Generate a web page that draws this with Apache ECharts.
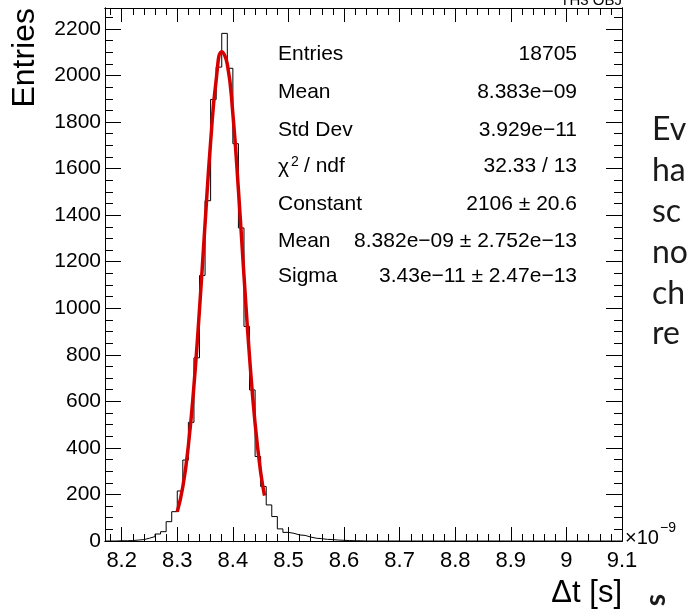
<!DOCTYPE html>
<html><head><meta charset="utf-8">
<script src="https://cdn.jsdelivr.net/npm/echarts@6/dist/echarts.min.js"></script>
<style>html,body{margin:0;padding:0;background:#fff}#c{width:687px;height:613px}</style>
</head><body><div id="c"></div>
<script>
// ---- data ----
const binStart = 8.17;   // first bin low edge (x10^-9 s)
const binWidth = 0.01;
const counts = [
  0, 0, 1, 1, 2, 4, 6, 12, 19, 30,
  40, 83, 126, 215, 348, 510, 787, 1141, 1462, 1897,
  2036, 2181, 2031, 1707, 1345, 922, 649, 363, 234, 155,
  105, 52, 37, 33, 26, 24, 17, 12, 10, 7,
  6, 4, 3, 2, 1, 1, 0, 0, 0, 0,
  0, 0, 0, 0, 0, 0, 0, 0, 0, 0,
  0, 0, 0, 0, 0, 0, 0, 0, 0, 0,
  0, 0, 0, 0, 0, 0, 0, 0, 0, 0,
  0, 0, 0, 0, 0, 0, 0, 0, 0, 0,
  0, 0, 0
];
const fitX = [8.300, 8.31, 8.32, 8.33, 8.34, 8.35, 8.36, 8.37, 8.38, 8.39, 8.40, 8.41, 8.42, 8.43, 8.44, 8.45, 8.457];
const fitY = [126, 233, 411, 668, 995, 1363, 1715, 1981, 2102, 2049, 1835, 1509, 1140, 791, 504, 295, 195];
const xTickValues = [8.2, 8.3, 8.4, 8.5, 8.6, 8.7, 8.8, 8.9, 9.0, 9.1];
const xTickLabels = ['8.2', '8.3', '8.4', '8.5', '8.6', '8.7', '8.8', '8.9', '9', '9.1'];
const yTickValues = [0, 200, 400, 600, 800, 1000, 1200, 1400, 1600, 1800, 2000, 2200];
const yTickLabels = ['0', '200', '400', '600', '800', '1000', '1200', '1400', '1600', '1800', '2000', '2200'];
const statsLabels = ['Entries', 'Mean', 'Std Dev', 'χ2 / ndf', 'Constant', 'Mean', 'Sigma'];
const statsValues = ['18705', '8.383e\u221209', '3.929e\u221211', '32.33 / 13', '2106 \u00b1 20.6', '8.382e\u221209 \u00b1 2.752e\u221213', '3.43e\u221211 \u00b1 2.47e\u221213'];
const xTitle = '\u0394t [s]';
const yTitle = 'Entries';
const sideText = ['Ev', 'ha', 'sc', 'no', 'ch', 're'];

// ---- chart ----
const X_MIN = 8.17, X_MAX = 9.1, Y_MIN = 0, Y_MAX = 2290;
const FONT = '"Liberation Sans", Arial, Helvetica, sans-serif';

const histData = counts.map((c, i) => [binStart + i * binWidth, c]);
histData.push([binStart + counts.length * binWidth, counts[counts.length - 1]]);
const fitData = fitX.map((x, i) => [x, fitY[i]]);

const xMinor = [];
for (let k = 0; k <= 46; k++) {
  const v = Math.round((8.18 + k * 0.02) * 100) / 100;
  if (v > X_MAX + 1e-9) break;
  if (!xTickValues.some(t => Math.abs(t - v) < 1e-6)) xMinor.push(v);
}
const yMinor = [];
for (let v = 50; v < Y_MAX; v += 50) if (v % 200 !== 0) yMinor.push(v);

function mkAxis(kind, position, ticks, len, withLabels) {
  const a = {
    type: 'value', position,
    min: kind === 'x' ? X_MIN : Y_MIN,
    max: kind === 'x' ? X_MAX : Y_MAX,
    splitLine: { show: false },
    axisLine: { show: true, onZero: false, lineStyle: { color: '#000', width: 1 } },
    axisTick: { show: true, inside: true, length: len, customValues: ticks, lineStyle: { color: '#000', width: 1 } },
    axisLabel: { show: false },
    minorTick: { show: false }
  };
  if (withLabels) {
    const vals = kind === 'x' ? xTickValues : yTickValues;
    const labs = kind === 'x' ? xTickLabels : yTickLabels;
    a.axisLabel = {
      show: true, customValues: vals, showMinLabel: true, showMaxLabel: true,
      fontFamily: FONT, fontSize: kind === 'x' ? 22 : 21, color: '#000',
      margin: kind === 'x' ? 9 : 4,
      formatter: v => { const i = vals.findIndex(t => Math.abs(t - v) < 1e-6); return i >= 0 ? labs[i] : ''; }
    };
  }
  return a;
}

const graphics = [];
const txt = (text, x, y, size, opts = {}) => graphics.push(Object.assign({
  type: 'text', x, y, silent: true,
  style: Object.assign({ text, fontSize: size, fontFamily: FONT, fill: '#000', align: 'left', verticalAlign: 'middle' }, opts.style || {})
}, opts.el || {}));

// stats box
const statsY = [54, 92, 130, 166.5, 204, 241, 276];
statsLabels.forEach((t, i) => {
  const y = statsY[i];
  if (i === 3) {
    txt('\u03c7', 278, y + 1, 21);
    txt('2', 291, y - 4, 14);
    txt('/ ndf', 304, y, 21);
  } else {
    txt(t, 278, y, 21);
  }
  txt(statsValues[i], 577, y, 21, { style: { align: 'right' } });
});

// axis titles
txt(yTitle, 25, 8, 32, { style: { align: 'right' }, el: { rotation: Math.PI / 2 } });
txt(xTitle, 622, 593, 31, { style: { align: 'right' } });
txt('\u00d710', 625, 538, 20);
txt('\u22129', 660, 528, 14);
// cut-off header text
txt('TH3 OBJ', 622, 8, 15, { style: { align: 'right', verticalAlign: 'bottom' } });
// cut-off slide text on the right
sideText.forEach((t, i) => txt(t, 652, 130 + i * 40.8, 32, { style: { fontFamily: 'Lato, "Open Sans", sans-serif', fill: '#1a1a1a' } }));
txt('s', 656, 600, 28, { style: { fontFamily: 'Lato, sans-serif', fill: '#1a1a1a', align: 'center', fontWeight: 'bold' }, el: { rotation: Math.PI / 2 } });

const chart = echarts.init(document.getElementById('c'), null, { renderer: 'canvas' });
chart.setOption({
  animation: false,
  backgroundColor: '#fff',
  grid: { left: 105, right: 65, top: 8, bottom: 72, containLabel: false },
  xAxis: [
    mkAxis('x', 'bottom', xTickValues, 14, true),
    mkAxis('x', 'bottom', xMinor, 7, false),
    mkAxis('x', 'top', xTickValues, 14, false),
    mkAxis('x', 'top', xMinor, 7, false)
  ],
  yAxis: [
    mkAxis('y', 'left', yTickValues, 16, true),
    mkAxis('y', 'left', yMinor, 8, false),
    mkAxis('y', 'right', yTickValues, 16, false),
    mkAxis('y', 'right', yMinor, 8, false)
  ],
  series: [
    {
      type: 'line', name: 'histogram', data: histData, step: 'end', symbol: 'none',
      xAxisIndex: 0, yAxisIndex: 0,
      lineStyle: { color: '#000', width: 1 }, z: 2
    },
    {
      type: 'line', name: 'gaus fit', data: fitData, smooth: 0.5, symbol: 'none',
      xAxisIndex: 0, yAxisIndex: 0,
      lineStyle: { color: '#d40000', width: 3.5 }, z: 3
    }
  ],
  graphic: graphics
});
</script>
</body></html>
